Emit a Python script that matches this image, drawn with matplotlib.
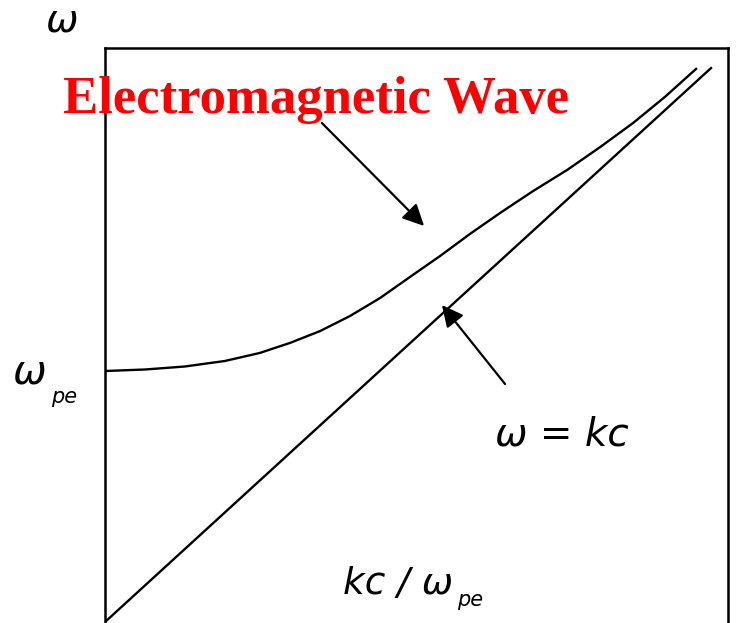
import matplotlib
matplotlib.use("Agg")
import matplotlib.pyplot as plt

# light line omega = kc (in units of omega_pe)
light_k = [0.0, 2.21]
light_w = [0.0, 2.21]

# EM wave branch, omega^2 = omega_pe^2 + k^2 c^2 (sketched)
em_k = [0.000, 0.146, 0.291, 0.437, 0.564, 0.674, 0.783, 0.892, 1.002, 1.111,
        1.220, 1.329, 1.438, 1.559, 1.683, 1.803, 1.923, 2.039, 2.156]
em_w = [1.000, 1.006, 1.018, 1.040, 1.072, 1.112, 1.159, 1.219, 1.291, 1.375,
        1.458, 1.546, 1.629, 1.717, 1.801, 1.892, 1.988, 2.092, 2.207]

title = "Electromagnetic Wave"
y_label = "\u03c9"
wpe_label = ("\u03c9", "pe")
light_label = "\u03c9 = kc"
x_label = ("kc / \u03c9", "pe")

W, H = 736, 623
fig = plt.figure(figsize=(W / 100, H / 100), dpi=100)
ax = fig.add_axes([105 / W, 1 / H, 623 / W, 574 / H])
ax.set_xlim(0, 2.2688)
ax.set_ylim(0, 2.2869)
ax.set_xticks([])
ax.set_yticks([])
for side in ("left", "top", "right"):
    ax.spines[side].set_linewidth(1.8)
ax.spines["bottom"].set_visible(False)

ax.plot(light_k, light_w, color="black", lw=1.7, solid_capstyle="butt")
ax.plot(em_k, em_w, color="black", lw=1.7, solid_capstyle="butt",
        solid_joinstyle="round")

arrow = dict(arrowstyle="-|>,head_length=0.65,head_width=0.32", mutation_scale=20,
             color="black", lw=1.6, shrinkA=0, shrinkB=0)
ax.annotate("", xy=(1.162, 1.578), xytext=(0.790, 1.988), arrowprops=arrow)
ax.annotate("", xy=(1.227, 1.263), xytext=(1.457, 0.948), arrowprops=arrow)


def px_text(x, y, s, **kw):
    # place text using pixel coords measured from the top-left corner
    fig.text(x / W, 1 - y / H, s, **kw)


sym = dict(family="DejaVu Sans", style="italic", color="black")
px_text(316, 100, title, family="Liberation Serif", weight="bold", color="red",
        fontsize=38, ha="center", va="center")

px_text(46, 32, y_label, fontsize=28, va="baseline", **sym)
px_text(13, 384, wpe_label[0], fontsize=29, va="baseline", **sym)
px_text(51, 403, wpe_label[1], fontsize=15, va="baseline", **sym)
px_text(495, 446, light_label, fontsize=28, va="baseline", **sym)
px_text(343, 594, x_label[0], fontsize=27, va="baseline", **sym)
px_text(457, 606, x_label[1], fontsize=15, va="baseline", **sym)

fig.savefig("out.png", dpi=100)
